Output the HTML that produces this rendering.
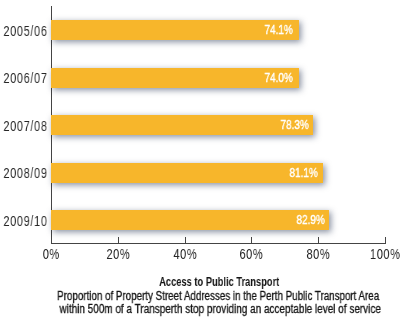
<!DOCTYPE html>
<html><head><meta charset="utf-8">
<style>
html,body{margin:0;padding:0;background:#fff;}
body{width:408px;height:324px;position:relative;overflow:hidden;font-family:"Liberation Sans",sans-serif;color:#2b2b2b;}
.a{position:absolute;will-change:transform;}
.vax{left:51px;top:6px;width:1px;height:238px;background:#444;}
.hax{left:51px;top:243px;width:335px;height:1px;background:#444;}
.tk{top:237px;width:1px;height:7px;background:#444;}
.bar{left:51px;height:20px;background:#f7b62b;box-shadow:2px 2px 6px rgba(20,35,70,0.5);}
.val{color:#fff;font-size:13px;line-height:20px;white-space:nowrap;-webkit-text-stroke:0.4px #fff;transform:scaleX(0.77);transform-origin:right center;text-align:right;}
.cat{font-size:14px;color:#262626;letter-spacing:0.85px;line-height:20px;white-space:nowrap;transform:scaleX(0.78);transform-origin:right center;text-align:right;right:360.6px;}
.tl{font-size:14px;color:#262626;letter-spacing:0.85px;text-indent:0.85px;line-height:16px;top:246px;white-space:nowrap;width:60px;text-align:center;transform:scaleX(0.78);}
.cap{left:0;width:436px;text-align:center;white-space:nowrap;font-size:12px;color:#141414;-webkit-text-stroke:0.3px #141414;transform:scaleX(0.85);transform-origin:219px 0;}
</style></head><body>
<div class="a vax"></div>
<div class="a hax"></div>
<div class="a tk" style="left:118px"></div>
<div class="a tk" style="left:185px"></div>
<div class="a tk" style="left:251px"></div>
<div class="a tk" style="left:318px"></div>
<div class="a tk" style="left:385px"></div>

<div class="a bar" style="top:20px;width:248px"></div>
<div class="a bar" style="top:68px;width:248px"></div>
<div class="a bar" style="top:115px;width:262px"></div>
<div class="a bar" style="top:163px;width:272px"></div>
<div class="a bar" style="top:210px;width:278px"></div>

<div class="a val" style="top:20px;right:115px">74.1%</div>
<div class="a val" style="top:68px;right:115px">74.0%</div>
<div class="a val" style="top:115px;right:99px">78.3%</div>
<div class="a val" style="top:163px;right:90px">81.1%</div>
<div class="a val" style="top:210px;right:83px">82.9%</div>

<div class="a cat" style="top:21px">2005/06</div>
<div class="a cat" style="top:68px">2006/07</div>
<div class="a cat" style="top:116px">2007/08</div>
<div class="a cat" style="top:163px">2008/09</div>
<div class="a cat" style="top:211px">2009/10</div>

<div class="a tl" style="left:21px">0%</div>
<div class="a tl" style="left:88px">20%</div>
<div class="a tl" style="left:155px">40%</div>
<div class="a tl" style="left:221px">60%</div>
<div class="a tl" style="left:288px">80%</div>
<div class="a tl" style="left:355px">100%</div>

<div class="a cap" style="top:275px;left:1px;font-weight:bold;-webkit-text-stroke:0;transform:scaleX(0.777)">Access to Public Transport</div>
<div class="a cap" style="top:289px;transform:scaleX(0.8155)">Proportion of Property Street Addresses in the Perth Public Transport Area</div>
<div class="a cap" style="top:302px;left:1.5px;transform:scaleX(0.831)">within 500m of a Transperth stop providing an acceptable level of service</div>
</body></html>
